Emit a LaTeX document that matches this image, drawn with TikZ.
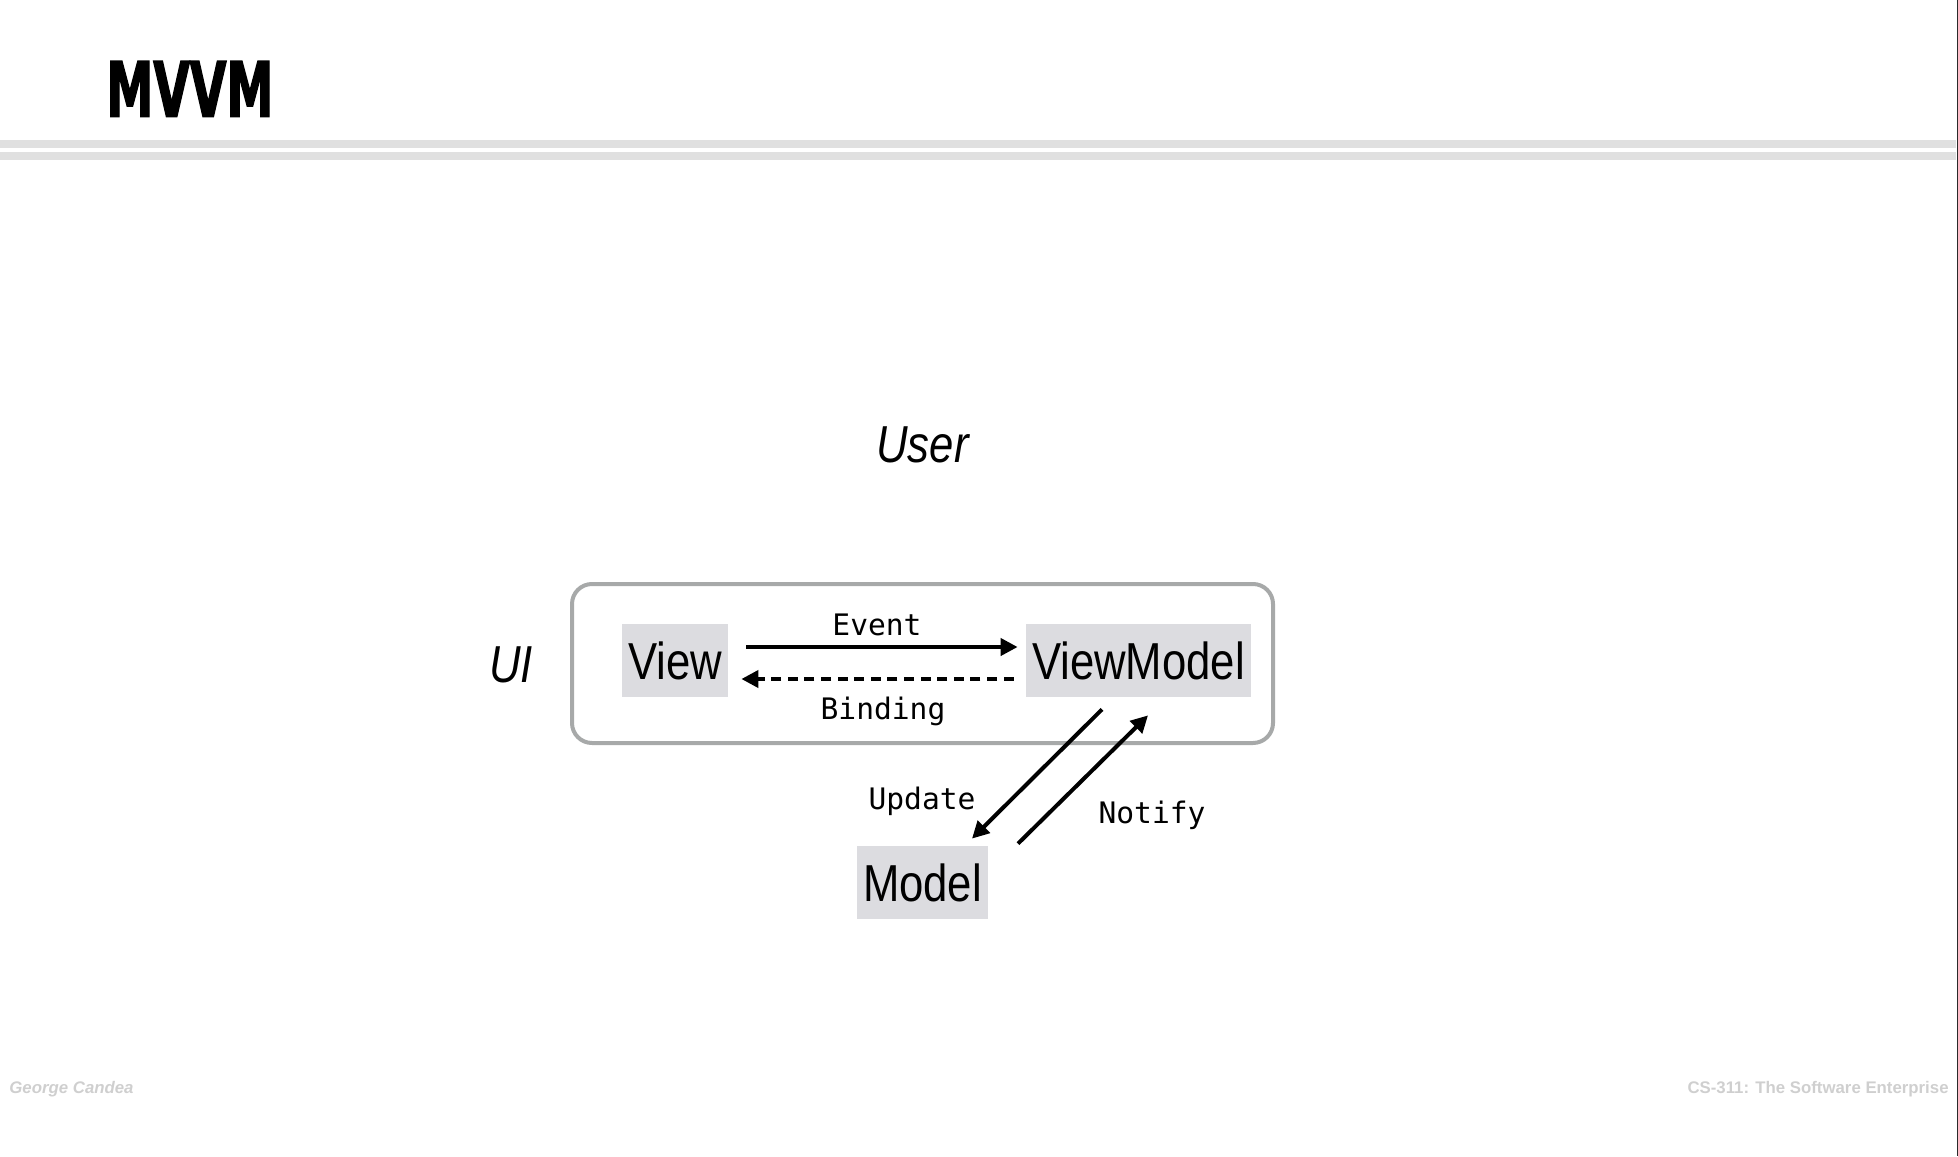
\documentclass[tikz,border=0pt]{standalone}
\usepackage{graphicx}
\usepackage{fontspec}
\setmainfont{Liberation Sans}
\newfontfamily\narrowfont[FakeStretch=0.84]{Liberation Sans}
\newfontfamily\lblfont{DejaVu Sans Mono}
\newfontfamily\titlefont[FakeBold=2.5]{DejaVu Sans}
\usetikzlibrary{arrows.meta,calc}
\definecolor{boxgray}{HTML}{A7A9A9}
\definecolor{nodefill}{HTML}{DCDCE0}
\definecolor{bandgray}{HTML}{E0E0E0}
\definecolor{footgray}{HTML}{CFCFCF}
\definecolor{edgegray}{HTML}{2A2A2A}
\tikzset{
  comp/.style={fill=nodefill, inner sep=0pt, minimum height=36.5pt,
    font=\narrowfont\fontsize{26pt}{30pt}\selectfont},
  bigtxt/.style={inner sep=0pt, font=\narrowfont\itshape\fontsize{26pt}{30pt}\selectfont},
  lbl/.style={inner sep=0pt, anchor=base, font=\lblfont\fontsize{14.8pt}{17pt}\selectfont},
  foot/.style={inner sep=0pt, anchor=base, text=footgray, font=\bfseries\fontsize{8.4pt}{10pt}\selectfont},
  arr/.style={line width=2pt, -{Triangle[length=8.5pt,width=8.5pt]}},
  container/.style={draw=boxgray, line width=2pt, rounded corners=10pt, inner sep=0pt}
}
\begin{document}
\begin{tikzpicture}[x=0.5pt,y=-0.5pt]
\useasboundingbox (0,0) rectangle (1958,1156);
% header bands
\fill[bandgray] (0,140) rectangle (1956,148);
\fill[bandgray] (0,152) rectangle (1956,160);
\draw[edgegray, line width=0.6pt] (1957.3,0) -- (1957.3,1156);
% title
\node[anchor=north west, inner sep=0pt] (title) at (106,61)
  {\resizebox{83.5pt}{27.5pt}{\titlefont\bfseries MVVM}};
% footers
\node[foot, anchor=base west] (author) at (9,1093) {\itshape George Candea};
\node[foot, anchor=base east] (course) at (1949,1093) {CS-311: The Software Enterprise};
% User and UI
\node[bigtxt, anchor=base] (user) at (922.5,462) {User};
\node[bigtxt, anchor=base] (uilbl) at (511,682) {UI};
% container
\node[container, minimum width=350.5pt, minimum height=79.5pt] (ui) at (922.5,663.5) {};
% components
\node[comp, minimum width=53pt] (View) at (675,660.5) {View};
\node[comp, minimum width=112.5pt] (ViewModel) at (1138.5,660.5) {ViewModel};
\node[comp, minimum width=65.5pt] (Model) at (922.5,882.5) {Model};
% connectors
\draw[arr] ($(View.east)+(18,-13.5)$) -- ($(ViewModel.west)+(-8,-13.5)$);
\draw[arr, dash pattern=on 5pt off 3.3pt] ($(ViewModel.west)+(-12,18.5)$) -- ($(View.east)+(13,18.5)$);
\draw[arr] ($(ViewModel.south)+(-36.5,12)$) -- ($(Model.north)+(49.5,-7)$);
\draw[arr] ($(Model.north)+(95.5,-2)$) -- ($(ViewModel.south)+(9.5,18)$);
% labels
\node[lbl] (evlbl) at (877,635) {Event};
\node[lbl] (bindlbl) at (883,719) {Binding};
\node[lbl] (updlbl) at (922,809) {Update};
\node[lbl] (notlbl) at (1152,823) {Notify};
\end{tikzpicture}
\end{document}
